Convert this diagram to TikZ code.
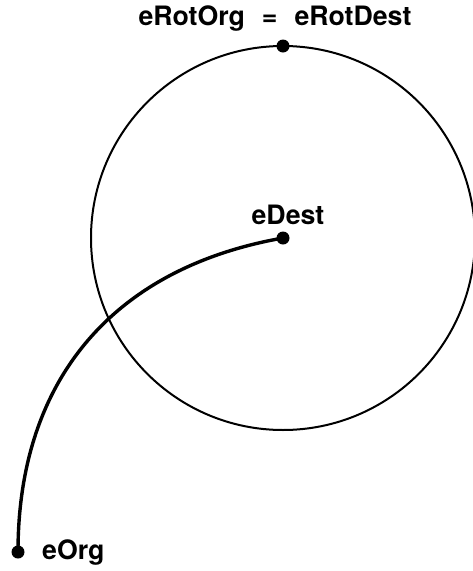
\documentclass[tikz,border=0pt]{standalone}
\usepackage{fontspec}
\setmainfont{TeX Gyre Heros}
\begin{document}
\begin{tikzpicture}[x=1pt,y=-1pt,
  dot/.style={circle,fill=black,draw=none,inner sep=0pt,minimum size=13pt},
  lbl/.style={inner sep=0pt,font=\fontsize{26.7}{30}\selectfont\bfseries},
  thin ring/.style={line width=2pt},
  path line/.style={line width=3.4pt}]
\useasboundingbox (0,0) rectangle (472,571);
\node[dot] (dest) at (283,238) {};
\node[dot] (rot) at (283,46) {};
\node[dot] (org) at (18,552) {};
\draw[thin ring] (dest.center) circle[radius=192pt];
\draw[path line] (org.center) .. controls (18,380) and (113,268) .. (dest.center);
\node[lbl,anchor=base] (rotlbl) at (275,25) {eRotOrg\hspace{17pt}=\hspace{17pt}eRotDest};
\node[lbl,anchor=base] (destlbl) at (288,224) {eDest};
\node[lbl,anchor=base west] (orglbl) at (42,559) {eOrg};
\end{tikzpicture}
\end{document}
